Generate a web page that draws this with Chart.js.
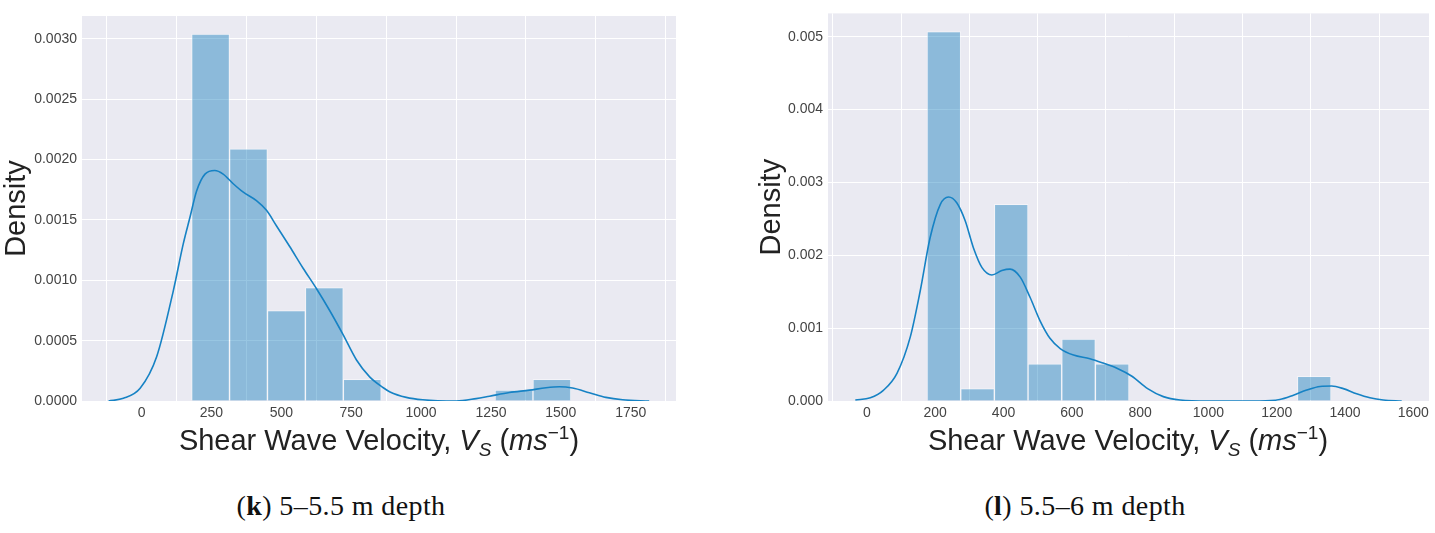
<!DOCTYPE html>
<html>
<head>
<meta charset="utf-8">
<script src="https://cdn.jsdelivr.net/npm/chart.js@4.4.1/dist/chart.umd.min.js"></script>
<style>
  body { margin: 0; background: #fff; width: 1435px; height: 533px; position: relative; overflow: hidden;
         font-family: 'Liberation Sans', Arial, sans-serif; }
  .box { position: absolute; top: 0; height: 425px; }
  #boxK { left: 0; width: 700px; }
  #boxL { left: 720px; width: 715px; }
  .xt { position: absolute; top: 426px; font-size: 29px; line-height: 1; color: #222; white-space: nowrap; transform: translateX(-50%); }
  .xt i { font-style: italic; }
  .xt sub { font-size: 19px; vertical-align: -6px; line-height: 0; }
  .xt sup { font-size: 19px; vertical-align: 11px; line-height: 0; }
  .cap { position: absolute; top: 492px; font-family: 'Liberation Serif', 'DejaVu Serif', serif; font-size: 28px; line-height: 1;
         color: #111; white-space: nowrap; transform: translateX(-50%); letter-spacing: 0.4px; }
</style>
</head>
<body>
<div class="box" id="boxK"><canvas id="chartK"></canvas></div>
<div class="box" id="boxL"><canvas id="chartL"></canvas></div>
<div class="xt" style="left:379px">Shear Wave Velocity, <i>V</i><sub><i>S</i></sub> (<i>ms</i><sup>−1</sup>)</div>
<div class="xt" style="left:1128px">Shear Wave Velocity, <i>V</i><sub><i>S</i></sub> (<i>ms</i><sup>−1</sup>)</div>
<div class="cap" style="left:341px">(<b>k</b>) 5–5.5 m depth</div>
<div class="cap" style="left:1085px">(<b>l</b>) 5.5–6 m depth</div>
<script>
// (k) 5–5.5 m depth: histogram bins (centres) and densities
var kBinCenters = [246.9, 382.6, 518.3, 654.0, 789.7, 925.4, 1061.1, 1196.8, 1332.5, 1468.2];
var kDensity = [0.00304, 0.00209, 0.00075, 0.00094, 0.00018, 0, 0, 0, 0.00009, 0.00018];
// kde curve
var kKdeX = [-118, -65, -5, 54, 114, 149, 173, 197, 227, 262, 292, 328, 364, 411, 447, 483, 530, 578, 626, 673,
             721, 769, 816, 865, 889, 947, 1006, 1126, 1197, 1245, 1316, 1388, 1447, 1495, 1542, 1602, 1661, 1721, 1816];
var kKdeY = [0, 0.000022, 0.000105, 0.000366, 0.000917, 0.0013, 0.00152, 0.00174, 0.00188, 0.00191, 0.00188, 0.0018,
             0.00173, 0.00166, 0.00158, 0.00145, 0.00128, 0.0011, 0.00093, 0.00075, 0.00055, 0.00034, 0.0002, 0.00011,
             0.000075, 0.00003, 0.00001, 0, 0.00002, 0.00004, 0.00007, 0.00009, 0.00011, 0.000118, 0.000107, 0.000069,
             0.00003, 0.00001, 0];
var kXTicks = [0, 250, 500, 750, 1000, 1250, 1500, 1750];
var kYTicks = [0, 0.0005, 0.001, 0.0015, 0.002, 0.0025, 0.003];

// (l) 5.5–6 m depth
var lBinCenters = [225.3, 323.9, 422.5, 521.1, 619.7, 718.3, 816.9, 915.5, 1014.1, 1112.7, 1211.3, 1309.9];
var lDensity = [0.00507, 0.00017, 0.0027, 0.00051, 0.00085, 0.00051, 0, 0, 0, 0, 0, 0.00034];
var lKdeX = [-34, 10, 49, 88, 127, 156, 185, 215, 239, 263, 288, 312, 337, 366, 395, 419, 449, 478, 507, 536, 566,
             605, 653, 692, 732, 776, 822, 868, 917, 1000, 1150, 1209, 1249, 1288, 1327, 1361, 1395, 1434, 1473, 1512, 1566];
var lKdeY = [0.000014, 0.000045, 0.00015, 0.00038, 0.00088, 0.00151, 0.00224, 0.0027, 0.0028, 0.00272, 0.00247, 0.0021,
             0.00183, 0.00173, 0.00179, 0.00181, 0.0017, 0.00142, 0.0011, 0.00086, 0.00072, 0.00063, 0.00058, 0.00052,
             0.00045, 0.00034, 0.00017, 0.00006, 0.000014, 0, 0, 0.00002, 0.00008, 0.00015, 0.0002, 0.000205, 0.00017,
             0.0001, 0.000045, 0.000014, 0];
var lXTicks = [0, 200, 400, 600, 800, 1000, 1200, 1400, 1600];
var lYTicks = [0, 0.001, 0.002, 0.003, 0.004, 0.005];

var lineColor = '#1682c4';
var barColor = 'rgba(10, 120, 185, 0.42)';
var tickFont = { family: "'Liberation Sans', Arial, sans-serif", size: 14 };
var tickColor = '#444';

// seaborn-like grey plot background
var areaBg = {
  id: 'areaBg',
  beforeDraw: function(chart) {
    var a = chart.chartArea, ctx = chart.ctx;
    ctx.save();
    ctx.fillStyle = '#EAEAF2';
    ctx.fillRect(a.left, a.top, a.right - a.left, a.bottom - a.top);
    ctx.restore();
  }
};

function makeChart(id, p) {
  return new Chart(document.getElementById(id), {
    type: 'bar',
    data: {
      datasets: [
        {
          type: 'line',
          data: p.kdeX.map(function(x, i) { return { x: x, y: p.kdeY[i] }; }),
          borderColor: lineColor,
          borderWidth: 1.6,
          pointRadius: 0,
          fill: false,
          cubicInterpolationMode: 'monotone',
          order: 0
        },
        {
          type: 'bar',
          data: p.centers.map(function(c, i) { return { x: c, y: p.density[i] }; }),
          backgroundColor: barColor,
          borderColor: 'rgba(255,255,255,0.45)',
          borderWidth: 1,
          borderSkipped: 'bottom',
          barPercentage: 1,
          categoryPercentage: 1,
          order: 1
        }
      ]
    },
    options: {
      responsive: true,
      maintainAspectRatio: false,
      animation: false,
      layout: { padding: { top: p.padTop, right: p.padRight, left: p.padLeft, bottom: 0 } },
      plugins: { legend: { display: false }, tooltip: { enabled: false } },
      scales: {
        x: {
          type: 'linear',
          offset: false,
          min: p.xMin,
          max: p.xMax,
          grid: { color: '#ffffff', lineWidth: 1, drawTicks: false },
          border: { display: false },
          ticks: {
            font: tickFont, color: tickColor, padding: 4, maxRotation: 0,
            callback: function(v) { return String(v); }
          },
          afterBuildTicks: function(s) { s.ticks = p.xTicks.map(function(v) { return { value: v }; }); },
          afterFit: function(s) { s.height = 24; }
        },
        y: {
          min: 0,
          max: p.yMax,
          grid: { color: '#ffffff', lineWidth: 1, drawTicks: false },
          border: { display: false },
          ticks: {
            font: tickFont, color: tickColor, padding: 5,
            callback: function(v) { return v.toFixed(p.decimals); }
          },
          afterBuildTicks: function(s) { s.ticks = p.yTicks.map(function(v) { return { value: v }; }); },
          afterFit: function(s) { s.width = p.yWidth; },
          title: {
            display: true, text: 'Density', color: '#222', padding: 0,
            font: { family: "'Liberation Sans', Arial, sans-serif", size: 29, lineHeight: 1.15 }
          }
        }
      }
    },
    plugins: [areaBg]
  });
}

makeChart('chartK', {
  centers: kBinCenters, density: kDensity, kdeX: kKdeX, kdeY: kKdeY,
  xTicks: kXTicks, yTicks: kYTicks, xMin: -213, xMax: 1912, yMax: 0.00319, decimals: 4,
  padTop: 16, padRight: 24, padLeft: 0, yWidth: 82
});

makeChart('chartL', {
  centers: lBinCenters, density: lDensity, kdeX: lKdeX, kdeY: lKdeY,
  xTicks: lXTicks, yTicks: lYTicks, xMin: -114, xMax: 1646, yMax: 0.00532, decimals: 3,
  padTop: 11, padRight: 6, padLeft: 35, yWidth: 73
});
</script>
</body>
</html>
